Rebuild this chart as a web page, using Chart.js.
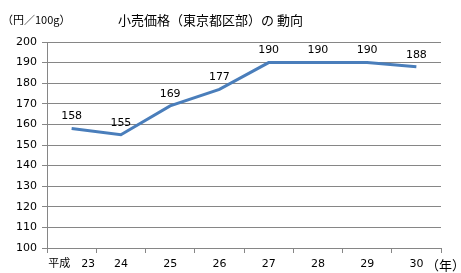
<!DOCTYPE html>
<html>
<head>
<meta charset="utf-8">
<script src="https://cdn.jsdelivr.net/npm/chart.js@4/dist/chart.umd.min.js"></script>
<style>
  html, body { margin: 0; padding: 0; background: #fff; }
  #wrap { width: 461px; height: 273px; position: relative; }
</style>
</head>
<body>
<div id="wrap"><canvas id="priceChart"></canvas></div>
<script>
var years = ['平成　23', '24', '25', '26', '27', '28', '29', '30'];
var prices = [158, 155, 169, 177, 190, 190, 190, 188];
var yTicks = [100, 200, 10]; // min, max, step

var FONT = '"DejaVu Sans", "Noto Sans CJK JP", sans-serif';
var JFONT = '"Noto Sans CJK JP", sans-serif';

// extra text boxes and value labels
var annot = {
  id: 'annot',
  afterDatasetsDraw: function(chart) {
    var ctx = chart.ctx;
    ctx.save();
    ctx.fillStyle = '#000';
    ctx.textBaseline = 'middle';
    ctx.font = '11px ' + JFONT;
    ctx.textAlign = 'left';
    ctx.fillText('（円／100g）', 2, 20);
    ctx.font = '13px ' + JFONT;
    ctx.fillText('小売価格（東京都区部）の 動向', 118, 20);
    ctx.font = '13px ' + JFONT;
    ctx.fillText('（年）', 426, 265);

    ctx.font = '11px ' + FONT;
    ctx.textAlign = 'center';
    var meta = chart.getDatasetMeta(0);
    meta.data.forEach(function(pt, i) {
      ctx.fillText(String(prices[i]), pt.x, pt.y - 12);
    });
    ctx.restore();
  }
};

new Chart(document.getElementById('priceChart'), {
  type: 'line',
  data: {
    labels: years,
    datasets: [{
      data: prices,
      borderColor: '#4A7EBB',
      borderWidth: 3,
      pointRadius: 0,
      tension: 0,
      fill: false
    }]
  },
  options: {
    responsive: true,
    maintainAspectRatio: false,
    animation: false,
    layout: { padding: { left: 0, right: 20, top: 42, bottom: 0 } },
    plugins: { legend: { display: false }, tooltip: { enabled: false } },
    scales: {
      x: {
        offset: true,
        grid: { display: true, offset: true, drawOnChartArea: false, color: '#868686', tickLength: 5 },
        border: { color: '#868686' },
        ticks: { color: '#000', font: { size: 11, family: FONT }, maxRotation: 0, autoSkip: false, padding: 5 },
        afterFit: function(s) { s.height = 25; }
      },
      y: {
        min: yTicks[0],
        max: yTicks[1],
        grid: { color: '#868686', tickLength: 5 },
        border: { color: '#868686' },
        ticks: { stepSize: yTicks[2], color: '#000', font: { size: 11, family: FONT }, padding: 5 },
        afterFit: function(s) { s.width = 47; }
      }
    }
  },
  plugins: [annot]
});
</script>
</body>
</html>
